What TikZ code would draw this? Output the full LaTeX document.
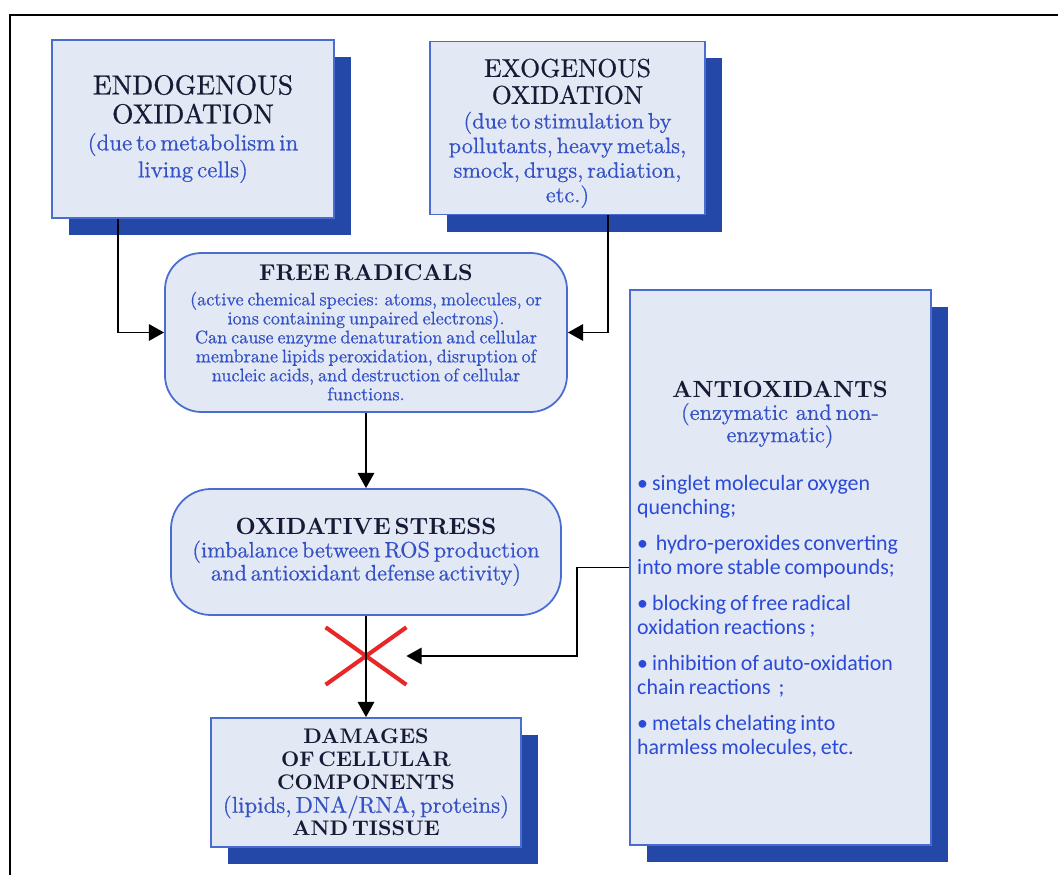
\documentclass[tikz,border=0pt]{standalone}
\usepackage{fontspec}
\setmainfont{lmroman10-regular.otf}[BoldFont=lmroman10-bold.otf, ItalicFont=lmroman10-italic.otf,
  UprightFeatures={FakeBold=0.6}]
\newfontfamily\listfont{Carlito}
\usepackage{tikz}
\usetikzlibrary{arrows.meta, shadows, shapes.misc}

\definecolor{boxfill}{RGB}{227,232,245}
\definecolor{boxline}{RGB}{72,108,208}
\definecolor{shadowblue}{RGB}{36,72,168}
\definecolor{txtblue}{RGB}{52,82,198}
\definecolor{listblue}{RGB}{42,74,215}
\definecolor{headdark}{RGB}{22,26,52}
\definecolor{xred}{RGB}{232,40,40}

\newcommand{\fsz}[2]{\fontsize{#1}{#2}\selectfont}

\begin{document}
\begin{tikzpicture}[
  x=0.03cm, y=-0.03cm,
  box/.style={rectangle, draw=boxline, fill=boxfill, line width=1.5pt, inner sep=0pt, align=center,
              drop shadow={shadow xshift=0.51cm, shadow yshift=-0.51cm, fill=shadowblue, opacity=1}},
  roundbox/.style={rectangle, rounded corners=1.1cm, draw=boxline, fill=boxfill, line width=1.5pt,
                   inner sep=0pt, align=center},
  arrow/.style={-{Triangle[length=13pt, width=14pt]}, line width=1.7pt}
]
  \useasboundingbox (0,0) rectangle (1058,875);
  % frame
  \draw[line width=2.5pt] (10,875) -- (10,15) -- (1058,15);

  \node[box, minimum width=8.46cm, minimum height=5.34cm, text width=8.3cm] (endo) at (193,129)
    {\fsz{23.5}{24.7}\color{headdark}ENDOGENOUS\\OXIDATION\par
     \fsz{19.5}{23}\color{txtblue}(due to metabolism in\\living cells)\par};
  \node[box, minimum width=8.25cm, minimum height=5.19cm, text width=8.2cm] (exo) at (567.5,128)
    {\fsz{22}{23}\color{headdark}EXOGENOUS\\OXIDATION\par
     \fsz{19}{21}\color{txtblue}(due to stimulation by\\pollutants, heavy metals,\\smock, drugs, radiation,\\etc.)\par
     \vspace{-9pt}};

  \node[roundbox, minimum width=12.06cm, minimum height=4.77cm, text width=11.9cm] (fr) at (366,332.5)
    {\fsz{19.5}{20}\bfseries\color{headdark}FREE RADICALS\par\vspace{5pt}
     \fsz{15.5}{16.2}\mdseries\color{txtblue}(active chemical species: atoms, molecules, or\\
     ions containing unpaired electrons).\\Can cause enzyme denaturation and cellular\\
     membrane lipids peroxidation, disruption of\\nucleic acids, and destruction of cellular\\
     functions.\par};
  \node[roundbox, rounded corners=1.2cm, minimum width=11.7cm, minimum height=3.78cm, text width=11.6cm]
    (os) at (366,552)
    {\fsz{20}{20}\bfseries\color{headdark}OXIDATIVE STRESS\par
     \fsz{19}{19.6}\mdseries\color{txtblue}(imbalance between ROS production\\
     and antioxidant defense activity)\par};

  \node[box, minimum width=9.3cm, minimum height=3.87cm, text width=9.2cm] (dam) at (366,782.5)
    {\fsz{18}{19.6}\bfseries\color{headdark}DAMAGES\\OF CELLULAR\\COMPONENTS\par
     \fsz{19.5}{19.6}\mdseries\color{txtblue}(lipids, DNA/RNA, proteins)\par
     \fsz{18}{19.6}\bfseries\color{headdark}AND TISSUE\par};

  % antioxidants
  \node[box, minimum width=9.03cm, minimum height=16.65cm] (antiox) at (780.5,567.5) {};
  \node[anchor=north, align=center, inner sep=0pt, text width=8.8cm] (antioxhead) at (780,381)
    {\fsz{20}{20}\bfseries\color{headdark}ANTIOXIDANTS\par
     \fsz{19}{19}\mdseries\color{txtblue}(enzymatic\ \ and non-\\enzymatic)\par};
  \node[anchor=north west, align=left, inner sep=0pt, text width=9cm] (antioxlist) at (637,475)
    {\listfont\fsz{18.7}{20.4}\color{listblue}\setlength{\parskip}{10.5pt}%
     •~singlet molecular oxygen\\quenching;\par
     •~~hydro-peroxides converting\\into more stable compounds;\par
     •~blocking of free radical\\oxidation reactions~;\par
     •~inhibition of auto-oxidation\\chain reactions~~;\par
     •~metals chelating into\\harmless molecules, etc.\par};

  \node[cross out, draw=xred, line width=3.5pt, minimum width=2.3cm, minimum height=1.6cm] (block) at (366,656) {};

  \draw[arrow] ([xshift=-2.25cm]endo.south) |- (fr.west);
  \draw[arrow] ([xshift=1.2cm]exo.south) |- (fr.east);
  \draw[arrow] (fr) -- (os);
  \draw[arrow] (os) -- (dam);
  \draw[arrow] (antiox.west) -- ++(-52,0) |- (block.east);
\end{tikzpicture}
\end{document}
